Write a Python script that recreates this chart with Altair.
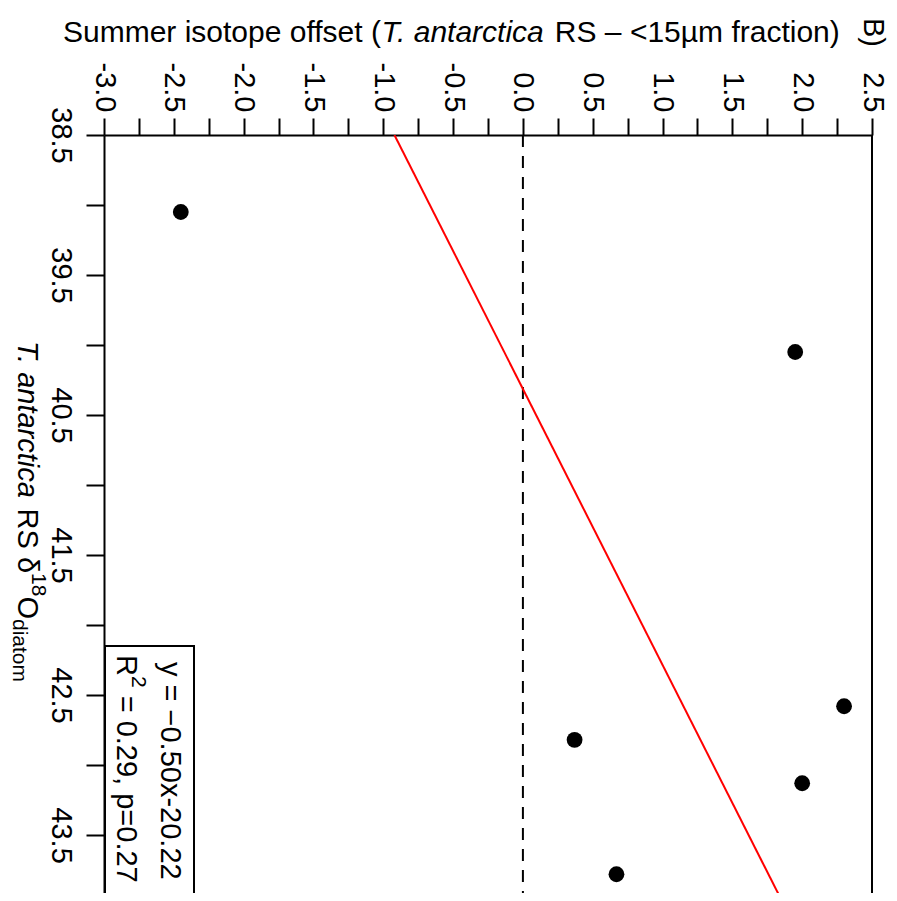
import altair as alt
import pandas as pd

# ---------------- data ----------------
offset = [-2.45, 1.95, 2.30, 0.37, 2.00, 0.67]          # summer isotope offset
d18o = [39.05, 40.05, 42.58, 42.82, 43.13, 43.78]      # T. antarctica RS d18O diatom
fit_d18o = [38.5, 44.0]                                # regression line end points
fit_offset = [-0.92, 1.87]
x_ticks = [-3.0, -2.75, -2.5, -2.25, -2.0, -1.75, -1.5, -1.25, -1.0, -0.75, -0.5, -0.25,
           0.0, 0.25, 0.5, 0.75, 1.0, 1.25, 1.5, 1.75, 2.0, 2.25, 2.5]
y_ticks = [38.5, 39.0, 39.5, 40.0, 40.5, 41.0, 41.5, 42.0, 42.5, 43.0, 43.5]
x_domain = [-3.0, 2.5]
y_domain = [38.5, 43.914]

title_parts = ["Summer isotope offset (", "T. antarctica", " RS – <15µm fraction)"]
ytitle_parts = ["T. antarctica", " RS δ", "18", "O", "diatom"]
eq_line1 = "y = −0.50x-20.22"
eq_line2 = ["R", "2", " = 0.29, p=0.27"]
panel_label = "B)"

# ---------------- layout ----------------
FONT = "Liberation Sans"
FS = 29
FS_TITLE = 30
FS_SMALL = 21
W, H = 768, 758

ARIAL = {' ': 278, '(': 333, ')': 333, 'S': 667, 'u': 556, 'm': 833, 'e': 556, 'r': 333,
         'i': 222, 's': 500, 'o': 556, 't': 278, 'p': 556, 'f': 278, 'T': 611, '.': 278,
         'a': 556, 'n': 556, 'c': 500, 'R': 722, '–': 556, '<': 584, '1': 556, '5': 556,
         'µ': 576, 'δ': 556, '8': 556, 'O': 778, 'd': 556, '2': 556, '0': 556, '9': 556,
         '7': 556, ',': 278, '=': 584, 'y': 500, 'x': 500, '-': 333, '−': 584}


def tw(s, size):
    return sum(ARIAL.get(ch, 556) for ch in s) / 1000.0 * size


one = pd.DataFrame({"k": [0]})

xlab = ("abs(datum.value*2 - round(datum.value*2)) < 1e-6 ? "
        "replace(format(datum.value, '.1f'), '\u2212', '-') : ''")
ylab = "abs(datum.value % 1 - 0.5) < 1e-6 ? format(datum.value, '.1f') : ''"

x_axis = alt.Axis(orient="top", values=x_ticks, labelExpr=xlab, title=None, grid=False,
                  tickSize=17, tickWidth=2, tickColor="black", domainWidth=2,
                  domainColor="black", labelAngle=90, labelAlign="right",
                  labelBaseline="middle", labelPadding=6, labelFont=FONT,
                  labelFontSize=FS, labelColor="black", labelOverlap=False,
                  labelFlush=False)
y_axis = alt.Axis(orient="left", values=y_ticks, labelExpr=ylab, title=None, grid=False,
                  tickSize=18, tickWidth=2, tickColor="black", domainWidth=2,
                  domainColor="black", labelAngle=90, labelAlign="center",
                  labelBaseline="top", labelPadding=12, labelFont=FONT,
                  labelFontSize=FS, labelColor="black", labelOverlap=False,
                  labelFlush=False)


def xenc(field):
    return alt.X(field, type="quantitative",
                 scale=alt.Scale(domain=x_domain, nice=False, zero=False), axis=x_axis)


def yenc(field):
    return alt.Y(field, type="quantitative",
                 scale=alt.Scale(domain=y_domain, nice=False, zero=False, reverse=True),
                 axis=y_axis)


pts = pd.DataFrame({"offset": offset, "d18o": d18o})
fit = pd.DataFrame({"offset": fit_offset, "d18o": fit_d18o})

points = alt.Chart(pts).mark_circle(size=250, color="black", opacity=1).encode(
    x=xenc("offset"), y=yenc("d18o"))
fit_line = alt.Chart(fit).mark_line(color="#ff0000", strokeWidth=2, clip=True).encode(
    x=xenc("offset"), y=yenc("d18o"), order="d18o:Q")
zero_line = alt.Chart(pd.DataFrame({"offset": [0.0]})).mark_rule(
    color="black", strokeWidth=2, strokeDash=[12, 9]).encode(x=xenc("offset"))
right_border = alt.Chart(one).mark_rule(color="black", strokeWidth=2).encode(
    x=alt.value(W), y=alt.value(0), y2=alt.value(H))
box = alt.Chart(one).mark_rect(fill="white", stroke="black", strokeWidth=2).encode(
    x=alt.value(1), x2=alt.value(90), y=alt.value(511), y2=alt.value(775))


def txt(s, x, y, size=FS, angle=0, style="normal", baseline="alphabetic", align="left"):
    # leading spaces get collapsed when rendered: shift the anchor instead
    lead = len(s) - len(s.lstrip(" "))
    shift = tw(" " * lead, size)
    if angle == 90:
        y += shift
    else:
        x += shift
    return alt.Chart(one).mark_text(text=s.lstrip(" "), font=FONT, fontSize=size,
                                    fontStyle=style, angle=angle, align=align,
                                    baseline=baseline, color="black").encode(
        x=alt.value(x), y=alt.value(y))


texts = []
# top title (horizontal)
tx, ty = -41, -93
texts.append(txt(title_parts[0], tx, ty, size=FS_TITLE))
tx += tw(title_parts[0], FS_TITLE)
texts.append(txt(title_parts[1], tx, ty, size=FS_TITLE, style="italic"))
tx += tw(title_parts[1], FS_TITLE)
texts.append(txt(title_parts[2], tx, ty, size=FS_TITLE))

# panel label
texts.append(txt(panel_label, 769, -117, angle=90, baseline="middle"))

# left (rotated) axis title
main_x, sup_x, sub_x = -86, -72, -91
yy = 206
texts.append(txt(ytitle_parts[0], main_x, yy, angle=90, style="italic"))
yy += tw(ytitle_parts[0], FS)
texts.append(txt(ytitle_parts[1], main_x, yy, angle=90))
yy += tw(ytitle_parts[1], FS)
texts.append(txt(ytitle_parts[2], sup_x, yy, size=FS_SMALL, angle=90))
yy += tw(ytitle_parts[2], FS_SMALL)
texts.append(txt(ytitle_parts[3], main_x, yy, angle=90))
yy += tw(ytitle_parts[3], FS)
texts.append(txt(ytitle_parts[4], sub_x, yy, size=FS_SMALL, angle=90))

# equation box text
texts.append(txt(eq_line1, 57, 527, angle=90))
ey = 520
texts.append(txt(eq_line2[0], 13, ey, angle=90))
ey += tw(eq_line2[0], FS)
texts.append(txt(eq_line2[1], 28, ey, size=FS_SMALL, angle=90))
ey += tw(eq_line2[1], FS_SMALL)
texts.append(txt(eq_line2[2], 13, ey, angle=90))

chart = alt.layer(zero_line, fit_line, points, right_border, box, *texts).properties(
    width=W, height=H,
    autosize=alt.AutoSizeParams(type="none"),
    padding={"left": 96, "top": 127, "right": 17, "bottom": 0},
).configure_view(stroke=None)

chart.save("out.html", embed_options={"renderer": "svg", "actions": False})
